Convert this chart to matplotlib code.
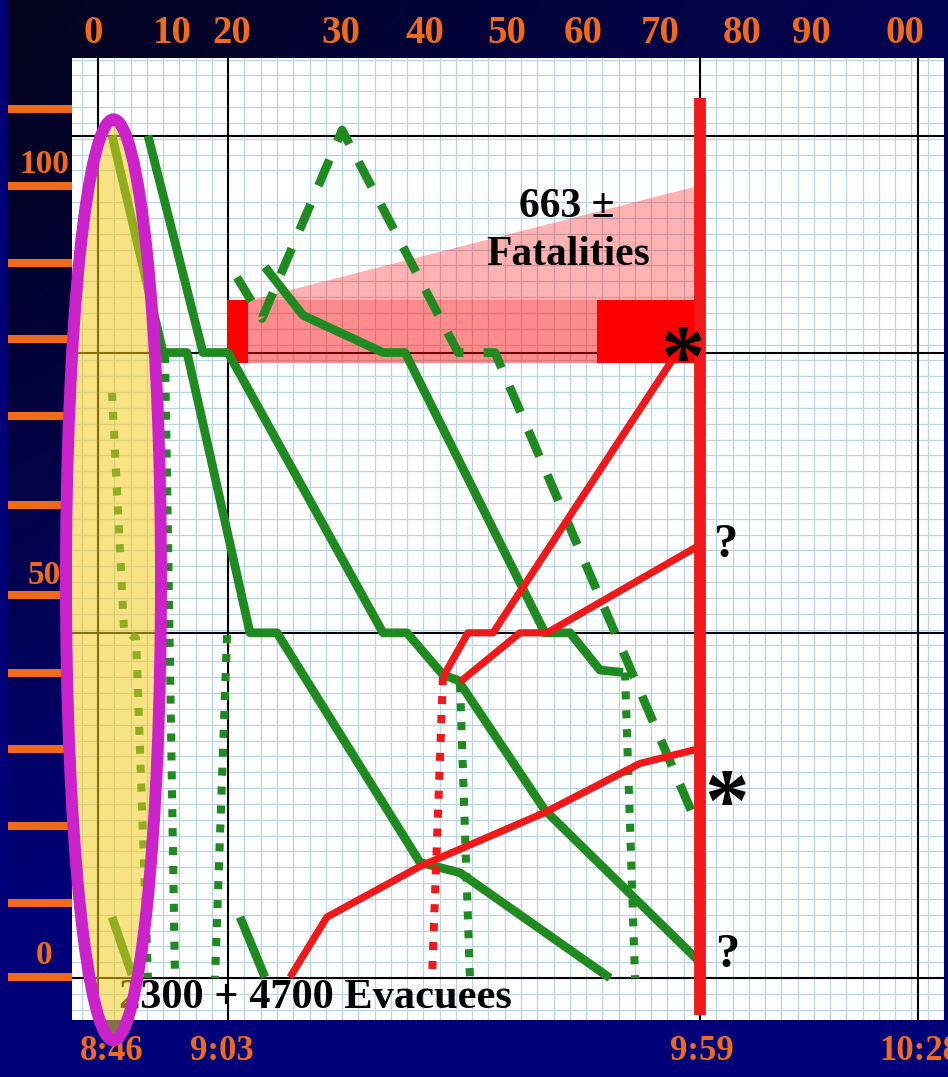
import numpy as np
import matplotlib.pyplot as plt
from matplotlib.patches import Ellipse, Polygon, Rectangle
from matplotlib.colors import LinearSegmentedColormap

plt.rcParams['font.family'] = ['Liberation Serif', 'DejaVu Serif']
plt.rcParams['font.weight'] = 'bold'

# x: graph-paper columns after 8:46 (one column ~ 2 min), y: floor
x_lim = (-1.6, 52.0)
y_lim = (-5.3, 116.2)

top_labels = ['0', '10', '20', '30', '40', '50', '60', '70', '80', '90', '00']
top_label_x = [-0.31, 4.55, 8.24, 14.94, 20.10, 25.14, 29.81, 34.54, 39.58, 43.88, 49.60]
time_labels = ['8:46', '9:03', '9:59', '10:28']
time_label_x = [0.86, 7.6, 37.1, 50.5]
floor_ticks = [109.7, 100.0, 90.3, 80.7, 71.0, 59.7, 48.4, 38.5, 28.9, 19.2, 9.5, 0.1]
floor_labels = ['100', '50', '0']
floor_label_y = [102.7, 50.9, 2.9]
major_x = [0, 8, 37, 50.4]
major_y = [0, 43.6, 79.0, 106.4]

# evacuation, solid green
stair_a_x = [3.07, 6.45, 7.99, 17.52, 18.99, 21.20, 22.13, 27.47, 37.0]
stair_a_y = [106.4, 79.0, 79.0, 43.6, 43.6, 38.3, 37.6, 21.2, 2.0]
stair_b_x = [0.86, 4.00, 5.47, 9.34, 11.00, 19.79, 22.25, 31.47]
stair_b_y = [106.4, 79.0, 79.0, 43.6, 43.6, 14.6, 13.3, 0.0]
stair_c_x = [10.26, 12.60, 17.52, 18.87, 27.47, 29.01, 30.85, 32.27]
stair_c_y = [89.8, 83.7, 79.0, 79.0, 43.6, 43.6, 38.9, 38.6]
stub_a_x = [8.73, 10.26]
stub_a_y = [7.7, 0.1]
stub_b_x = [0.86, 2.09]
stub_b_y = [7.7, 0.4]
# dashed green
dash_x = [8.54, 10.08, 15.0, 22.13, 24.40, 36.57]
dash_y = [88.5, 83.3, 107.1, 79.0, 79.0, 20.6]
# dotted green
dot_a_x = [0.86, 1.60, 2.34, 3.07]
dot_a_y = [73.9, 43.9, 42.9, 0.0]
dot_b_x = [4.12, 4.73]
dot_b_y = [78.7, 0.0]
dot_c_x = [7.93, 7.19]
dot_c_y = [43.3, 0.0]
dot_d_x = [22.25, 22.86]
dot_d_y = [37.1, 0.0]
dot_e_x = [32.39, 33.01]
dot_e_y = [38.6, 0.0]
# red
fire_a_x = [11.80, 14.07, 19.79, 27.35, 33.31, 37.0]
fire_a_y = [0.1, 7.7, 14.1, 20.8, 27.1, 29.0]
fire_b_x = [22.25, 25.94, 27.60, 37.0]
fire_b_y = [37.4, 43.6, 43.6, 54.7]
fire_c_x = [21.20, 22.74, 24.28, 35.28]
fire_c_y = [38.0, 43.6, 43.6, 78.0]
fire_dot_x = [21.20, 20.53]
fire_dot_y = [38.0, 0.0]
collapse_x = 37.0
collapse_y = [111.2, -4.7]

impact_floors = (77.7, 85.6)
impact_left = (7.93, 9.22)
impact_right = (30.67, 37.0)
fatal_tri_x = [9.34, 37.0, 37.0]
fatal_tri_y = [85.6, 100.1, 85.6]

GREEN = '#1f8a1f'
RED = '#f01818'
ORANGE = '#f06a1a'

fig = plt.figure(figsize=(9.48, 10.77), dpi=100)

# background gradient
bg = fig.add_axes([0, 0, 1, 1], zorder=-5)
v = np.linspace(0, 1, 270)[:, None]
u = np.linspace(0, 1, 237)[None, :]
t = np.clip(0.15 + 1.05 * v ** 1.3 + 0.5 * u, 0, 1)
t[:, :2] = 1
bg.imshow(t, cmap=LinearSegmentedColormap.from_list('bg', ['#04041e', '#000078']),
          aspect='auto', interpolation='bilinear', extent=[0, 1, 0, 1])
bg.axis('off')

ax = fig.add_axes([72 / 948, 1 - 1020 / 1077, 872 / 948, 962 / 1077])
ax.set_facecolor('white')
ax.set_xlim(*x_lim)
ax.set_ylim(*y_lim)
for s in ax.spines.values():
  s.set_visible(False)

# graph paper
ax.set_xticks(np.arange(-1, 53, 1), minor=True)
ax.set_yticks(np.arange(-4, 117, 2), minor=True)
ax.grid(which='minor', color='#b8d6e4', linewidth=0.9)
ax.tick_params(which='minor', length=0)

for xv in major_x:
  ax.axvline(xv, color='black', lw=1.5, zorder=1.6)
for yv in major_y:
  ax.axhline(yv, color='black', lw=1.5, zorder=1.6)

# impact zone and fatalities wedge
ax.add_patch(Polygon(list(zip(fatal_tri_x, fatal_tri_y)), closed=True,
                     facecolor='#ff0000', alpha=0.3, lw=0, zorder=1.7))
ax.add_patch(Rectangle((impact_left[1], impact_floors[0]), impact_right[0] - impact_left[1],
                       impact_floors[1] - impact_floors[0], facecolor='#ff0000',
                       alpha=0.45, lw=0, zorder=1.7))
for x0, x1 in [impact_left, impact_right]:
  ax.add_patch(Rectangle((x0, impact_floors[0]), x1 - x0, impact_floors[1] - impact_floors[0],
                         facecolor='#ff0000', lw=0, zorder=2))

solid = dict(color=GREEN, lw=6.3, solid_capstyle='butt', solid_joinstyle='round', zorder=3)
for xs, ys in [(stair_a_x, stair_a_y), (stair_b_x, stair_b_y), (stair_c_x, stair_c_y),
               (stub_a_x, stub_a_y), (stub_b_x, stub_b_y)]:
  ax.plot(xs, ys, **solid)
ax.plot(dash_x, dash_y, color=GREEN, lw=6.3, dashes=(3.2, 2.3),
        dash_capstyle='butt', zorder=3)
for xs, ys in [(dot_a_x, dot_a_y), (dot_b_x, dot_b_y), (dot_c_x, dot_c_y),
               (dot_d_x, dot_d_y), (dot_e_x, dot_e_y)]:
  ax.plot(xs, ys, color=GREEN, lw=5.8, dashes=(1, 1.35), dash_capstyle='butt', zorder=3)

for xs, ys in [(fire_a_x, fire_a_y), (fire_b_x, fire_b_y), (fire_c_x, fire_c_y)]:
  ax.plot(xs, ys, color=RED, lw=5.2, solid_capstyle='butt', zorder=3.2)
ax.plot(fire_dot_x, fire_dot_y, color=RED, lw=5.8, dashes=(1, 1.35),
        dash_capstyle='butt', zorder=3.2)
ax.plot([collapse_x, collapse_x], collapse_y, color=RED, lw=8.5,
        solid_capstyle='butt', zorder=3.5, clip_on=False)

# annotations
ax.text(28.8, 97.4, '663 ±', fontsize=30, ha='center', va='center', zorder=4)
ax.text(28.9, 91.3, 'Fatalities', fontsize=30, ha='center', va='center', zorder=4)
ax.text(13.34, -2.5, '2300 + 4700 Evacuees', fontsize=30.5, ha='center', va='center',
        zorder=4, clip_on=False)
ax.text(38.54, 54.7, '?', fontsize=35, ha='center', va='center', zorder=4)
ax.text(38.66, 2.9, '?', fontsize=35, ha='center', va='center', zorder=4)
ax.text(35.96, 77.6, '*', fontsize=64, ha='center', va='center', zorder=4)
ax.text(38.66, 21.6, '*', fontsize=64, ha='center', va='center', zorder=4)

# first-hour highlight
ax.add_patch(Ellipse((0.95, 50.3), 5.84, 116.3, facecolor='#f2cc20', alpha=0.55,
                     lw=0, zorder=5, clip_on=False))
ax.add_patch(Ellipse((0.95, 50.3), 5.84, 116.3, facecolor='none', edgecolor='#cc22cc',
                     lw=8.6, zorder=6, clip_on=False))

# axes labels
ax.set_yticks(floor_ticks)
ax.tick_params(axis='y', length=46, width=5.8, color=ORANGE, direction='out',
               labelleft=False)
for lab, yv in zip(floor_labels, floor_label_y):
  ax.text(-0.032, yv, lab, transform=ax.get_yaxis_transform(), fontsize=24,
          color=ORANGE, ha='center', va='center', zorder=4.5, clip_on=False)

ax.set_xticks(time_label_x, time_labels)
ax.tick_params(axis='x', length=0, pad=11, labelsize=25, labelcolor=ORANGE)

top = ax.secondary_xaxis('top')
top.set_xticks(top_label_x, top_labels)
top.tick_params(length=0, pad=4, labelsize=28, labelcolor=ORANGE)
top.spines['top'].set_visible(False)

fig.savefig('out.png', dpi=100)
